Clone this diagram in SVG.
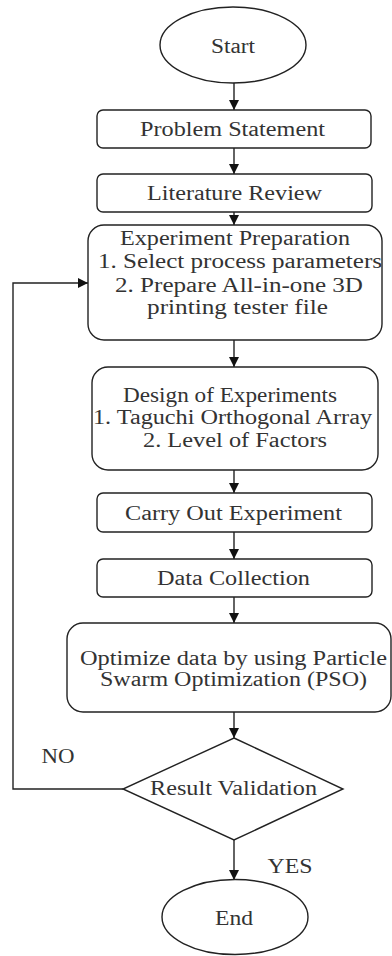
<svg xmlns="http://www.w3.org/2000/svg" width="392" height="956" viewBox="0 0 392 956">
<style>
.shape{fill:#fff;stroke:#222;stroke-width:1.4}
.t{font-family:"Liberation Serif","Times New Roman",serif;font-size:20px;fill:#333;text-anchor:middle}
.c{fill:none;stroke:#222;stroke-width:1.4}
</style>
<defs>
<marker id="ah" markerUnits="userSpaceOnUse" markerWidth="10" markerHeight="11" refX="10" refY="5" orient="auto">
<path d="M0,0 L10,5 L0,10 z" fill="#111"/>
</marker>
</defs>
<rect width="392" height="956" fill="#fff"/>
<g id="connectors">
<line class="c" x1="234" y1="83" x2="234" y2="110" marker-end="url(#ah)"/>
<line class="c" x1="234" y1="148" x2="234" y2="174" marker-end="url(#ah)"/>
<line class="c" x1="234" y1="212" x2="234" y2="225" marker-end="url(#ah)"/>
<line class="c" x1="234" y1="340" x2="234" y2="367" marker-end="url(#ah)"/>
<line class="c" x1="234" y1="470" x2="234" y2="493" marker-end="url(#ah)"/>
<line class="c" x1="234" y1="532" x2="234" y2="559" marker-end="url(#ah)"/>
<line class="c" x1="234" y1="597" x2="234" y2="623" marker-end="url(#ah)"/>
<line class="c" x1="234" y1="712" x2="234" y2="738" marker-end="url(#ah)"/>
<line class="c" x1="234" y1="840" x2="234" y2="880" marker-end="url(#ah)"/>
<polyline class="c" points="123,789 13,789 13,283 88,283" marker-end="url(#ah)"/>
<text class="t" x="58" y="763" textLength="33" lengthAdjust="spacingAndGlyphs">NO</text>
<text class="t" x="290" y="873" textLength="45" lengthAdjust="spacingAndGlyphs">YES</text>
</g>
<g id="start">
<ellipse class="shape" cx="233" cy="45" rx="73" ry="38"/>
<text class="t" x="233" y="53" textLength="44" lengthAdjust="spacingAndGlyphs">Start</text>
</g>
<g id="problem">
<rect class="shape" x="97" y="110" width="274" height="38" rx="6"/>
<text class="t" x="232.5" y="136" textLength="185" lengthAdjust="spacingAndGlyphs">Problem Statement</text>
</g>
<g id="literature">
<rect class="shape" x="97" y="174" width="275" height="38" rx="6"/>
<text class="t" x="234.5" y="200" textLength="175" lengthAdjust="spacingAndGlyphs">Literature Review</text>
</g>
<g id="preparation">
<rect class="shape" x="88" y="225" width="294" height="115" rx="16"/>
<text class="t" x="235" y="245" textLength="230" lengthAdjust="spacingAndGlyphs">Experiment Preparation</text>
<text class="t" x="240" y="268" textLength="284" lengthAdjust="spacingAndGlyphs">1. Select process parameters</text>
<text class="t" x="239" y="292" textLength="248" lengthAdjust="spacingAndGlyphs">2. Prepare All-in-one 3D</text>
<text class="t" x="237.5" y="314" textLength="181" lengthAdjust="spacingAndGlyphs">printing tester file</text>
</g>
<g id="design">
<rect class="shape" x="92" y="367" width="286" height="103" rx="16"/>
<text class="t" x="230" y="402" textLength="214" lengthAdjust="spacingAndGlyphs">Design of Experiments</text>
<text class="t" x="232.5" y="424" textLength="279" lengthAdjust="spacingAndGlyphs">1. Taguchi Orthogonal Array</text>
<text class="t" x="235" y="447" textLength="184" lengthAdjust="spacingAndGlyphs">2. Level of Factors</text>
</g>
<g id="carry">
<rect class="shape" x="97" y="493" width="275" height="39" rx="6"/>
<text class="t" x="233.5" y="520" textLength="217" lengthAdjust="spacingAndGlyphs">Carry Out Experiment</text>
</g>
<g id="data">
<rect class="shape" x="97" y="559" width="275" height="38" rx="6"/>
<text class="t" x="233.5" y="585" textLength="153" lengthAdjust="spacingAndGlyphs">Data Collection</text>
</g>
<g id="optimize">
<rect class="shape" x="67" y="623" width="324" height="89" rx="16"/>
<text class="t" x="233.5" y="665" textLength="307" lengthAdjust="spacingAndGlyphs">Optimize data by using Particle</text>
<text class="t" x="233.5" y="686" textLength="267" lengthAdjust="spacingAndGlyphs">Swarm Optimization (PSO)</text>
</g>
<g id="validation">
<polygon class="shape" points="234,738 343,789 234,840 123,789"/>
<text class="t" x="233.5" y="795" textLength="167" lengthAdjust="spacingAndGlyphs">Result Validation</text>
</g>
<g id="end">
<ellipse class="shape" cx="235" cy="917" rx="73" ry="37.5"/>
<text class="t" x="234" y="925" textLength="38" lengthAdjust="spacingAndGlyphs">End</text>
</g>
</svg>
